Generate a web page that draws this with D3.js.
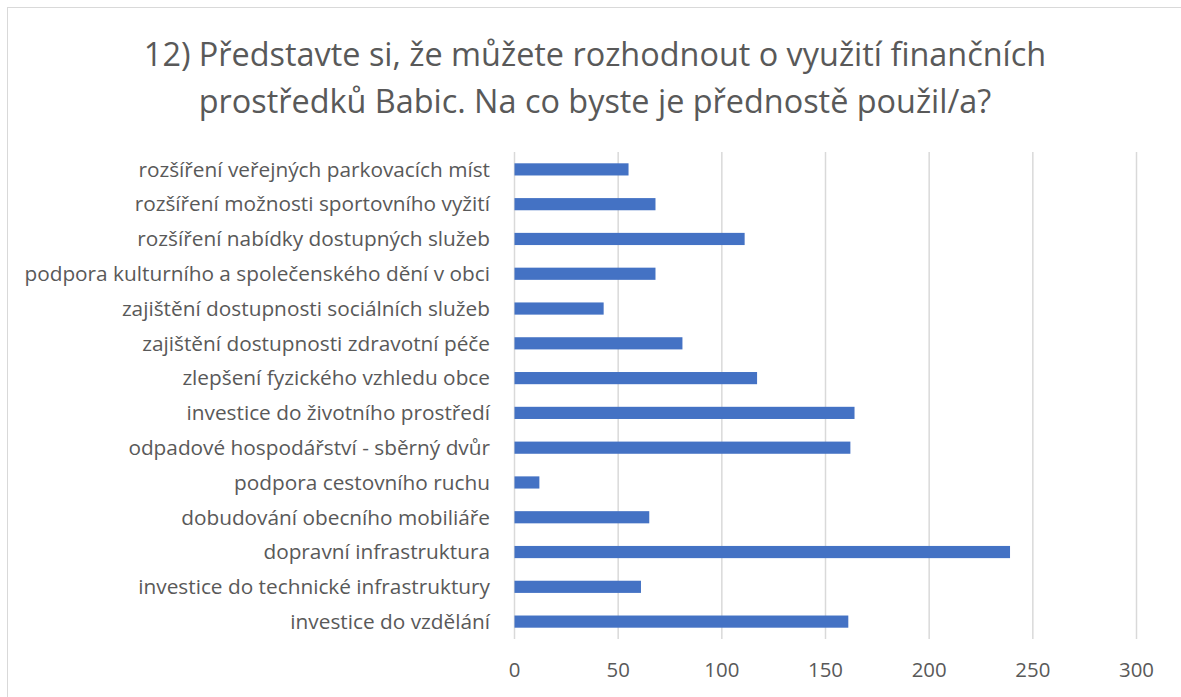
<!DOCTYPE html>
<html>
<head>
<meta charset="utf-8">
<script src="https://cdn.jsdelivr.net/npm/d3@7"></script>
<style>
  body { margin: 0; background: #fff; }
  svg { display: block; }
</style>
</head>
<body>
<svg id="chart" width="1181" height="697"></svg>
<script>
const titleLines = ["12) Představte si, že můžete rozhodnout o využití finančních",
    "prostředků Babic. Na co byste je přednostě použil/a?"];

const categories = [
    "rozšíření veřejných parkovacích míst",
    "rozšíření možnosti sportovního vyžití",
    "rozšíření nabídky dostupných služeb",
    "podpora kulturního a společenského dění v obci",
    "zajištění dostupnosti sociálních služeb",
    "zajištění dostupnosti zdravotní péče",
    "zlepšení fyzického vzhledu obce",
    "investice do životního prostředí",
    "odpadové hospodářství - sběrný dvůr",
    "podpora cestovního ruchu",
    "dobudování obecního mobiliáře",
    "dopravní infrastruktura",
    "investice do technické infrastruktury",
    "investice do vzdělání"
];
const values = [55, 68, 111, 68, 43, 81, 117, 164, 162, 12, 65, 239, 61, 161];
const xTicks = [0, 50, 100, 150, 200, 250, 300];

const svg = d3.select("#chart");
const fontFam = "'Open Sans', 'Noto Sans', sans-serif";
const textColor = "#595959";

// chart frame
svg.append("rect")
    .attr("x", 7.5).attr("y", 7.5)
    .attr("width", 1190).attr("height", 700)
    .attr("fill", "none")
    .attr("stroke", "#d9d9d9")
    .attr("stroke-width", 1);

// title
svg.append("g").selectAll("text")
    .data(titleLines)
    .join("text")
    .attr("x", 595)
    .attr("y", (d, i) => 66 + i * 47)
    .attr("text-anchor", "middle")
    .attr("font-family", fontFam)
    .attr("font-size", 32.4)
    .attr("fill", textColor)
    .text(d => d);

const x = d3.scaleLinear().domain([0, 300]).range([514.5, 1136.5]);
const y = d3.scaleBand().domain(categories).range([152, 639]).paddingInner(0.65).paddingOuter(0.325);

// gridlines
svg.append("g").selectAll("line")
    .data(xTicks)
    .join("line")
    .attr("x1", d => x(d)).attr("x2", d => x(d))
    .attr("y1", 152).attr("y2", 639)
    .attr("stroke", "#d9d9d9")
    .attr("stroke-width", 1.5);

// bars
svg.append("g").selectAll("rect")
    .data(values)
    .join("rect")
    .attr("x", x(0))
    .attr("y", (d, i) => y(categories[i]))
    .attr("width", d => x(d) - x(0))
    .attr("height", y.bandwidth())
    .attr("fill", "#4472C4");

// category labels
svg.append("g").selectAll("text")
    .data(categories)
    .join("text")
    .attr("x", 490)
    .attr("y", d => y(d) + y.bandwidth() / 2)
    .attr("dy", "0.35em")
    .attr("text-anchor", "end")
    .attr("font-family", fontFam)
    .attr("font-size", 20.8)
    .attr("fill", textColor)
    .text(d => d);

// x tick labels
svg.append("g").selectAll("text")
    .data(xTicks)
    .join("text")
    .attr("x", d => x(d))
    .attr("y", 670)
    .attr("dy", "0.35em")
    .attr("text-anchor", "middle")
    .attr("font-family", fontFam)
    .attr("font-size", 20.4)
    .attr("fill", textColor)
    .text(d => d);
</script>
</body>
</html>
